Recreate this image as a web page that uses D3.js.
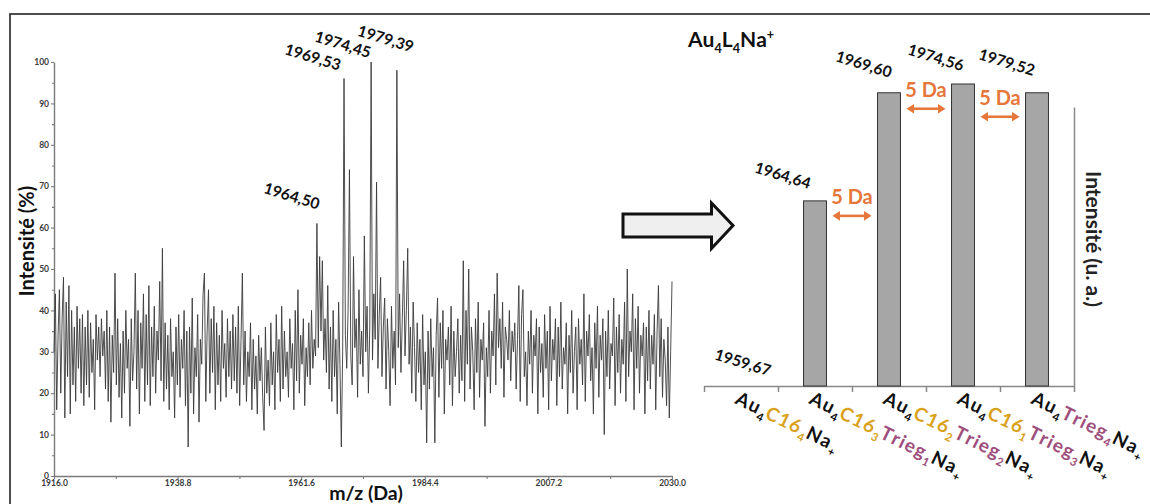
<!DOCTYPE html>
<html><head><meta charset="utf-8">
<script src="https://cdn.jsdelivr.net/npm/d3@7"></script>
<style>
html,body{margin:0;padding:0;background:#fff;}
svg{display:block;}
text{font-family:Lato,"Open Sans","DejaVu Sans",sans-serif;}
</style></head><body>
<svg id="c" width="1150" height="504"></svg>
<script>
// ---------- DATA ----------
const specStart = 1916.0, specEnd = 2030.0;
const spectrum = [
30,44,16,34,45,20,38,48,14,42,24,46,15,40,22,36,18,41,26,38,
20,39,17,36,22,40,19,37,25,33,16,39,28,36,24,38,29,35,21,40,
18,36,13,34,25,49,22,38,19,32,14,35,20,40,26,33,12,38,23,30,
49,21,40,15,37,26,44,18,39,22,46,17,36,24,41,20,35,28,47,23,
55,18,37,21,34,16,38,24,30,14,36,22,39,19,33,26,40,17,35,7,
36,20,43,15,31,24,39,13,33,27,44,49,18,35,45,20,38,25,41,16,
37,22,34,18,40,26,32,19,38,24,35,21,39,23,36,20,41,17,33,49,
22,35,18,30,24,37,16,33,21,29,15,34,23,31,19,11,36,20,28,17,
37,22,30,16,39,25,33,18,41,21,35,24,30,19,38,26,32,16,40,23,
45,20,34,27,38,17,31,24,37,22,40,26,33,29,61,31,53,35,52,28,
38,25,46,21,36,18,40,24,33,15,42,27,7,30,96,34,26,40,74,29,
22,53,31,38,19,45,27,35,24,58,30,41,20,36,100,28,44,33,71,26,
39,48,24,36,43,21,38,30,17,41,26,35,22,98,31,44,25,38,52,29,
40,55,27,36,20,42,31,18,37,25,33,16,39,22,30,8,35,21,38,24,
31,8,34,43,19,37,26,40,15,33,28,36,22,41,17,35,24,30,38,20,
34,23,52,18,40,27,50,21,36,30,16,38,25,42,19,33,28,37,12,31,
24,40,20,35,29,44,22,49,31,38,26,42,19,36,33,28,40,23,35,30,
37,21,33,46,18,39,45,24,30,17,35,27,40,20,34,29,38,15,36,25,
32,19,39,26,35,16,41,23,33,28,38,17,36,24,42,21,31,27,37,15,
34,25,40,20,30,36,16,38,27,33,22,44,18,35,29,39,23,31,15,37,
26,41,19,34,28,38,10,35,24,40,21,32,29,43,17,36,25,39,20,33,
27,42,18,50,24,35,30,44,16,38,26,41,20,34,29,37,15,36,23,40,
21,34,27,39,16,35,46,24,38,19,33,28,17,36,14,30,47
];
const mzTicks = [1916.0, 1938.8, 1961.6, 1984.4, 2007.2, 2030.0];
const mzMinorTicks = [1927.4, 1950.2, 1973.0, 1995.8, 2018.6];
const intTicks = [0,10,20,30,40,50,60,70,80,90,100];
const intMinorTicks = [5,15,25,35,45,55,65,75,85,95];
const peakMz = [1964.50, 1969.53, 1974.45, 1979.39];

const barMz = [1959.67, 1964.64, 1969.60, 1974.56, 1979.52];
const barIntensity = [0, 61.3, 97.1, 100, 97.1];
const c16Count = [4, 3, 2, 1, 0];
const triegCount = [0, 1, 2, 3, 4];
const deltaPairs = [[1,2],[2,3],[3,4]];
const deltaText = "5 Da";

// ---------- LAYOUT / STYLE ----------
const svg = d3.select("#c");
const GOLD = "#D9A11C", MAUVE = "#9E4E7C", ORANGE = "#E5773A";
const fmtComma = v => d3.format(".2f")(v).replace(".", ",");

// outer frame
svg.append("rect").attr("x",10).attr("y",14).attr("width",1170).attr("height",520)
  .attr("fill","none").attr("stroke","#222").attr("stroke-width",1.6);

// ---------- LEFT: spectrum ----------
const x = d3.scaleLinear().domain([specStart, specEnd]).range([54, 672]);
const y = d3.scaleLinear().domain([0, 100]).range([476, 62]);
const mzAt = i => specStart + i * (specEnd - specStart) / (spectrum.length - 1);

function styleAxis(g){
  g.selectAll("path.domain").attr("stroke","#7a7a7a").attr("stroke-width",1.4);
  g.selectAll(".tick line").attr("stroke","#7a7a7a").attr("stroke-width",1.1);
  g.selectAll(".tick text").attr("font-family",'"Liberation Sans",Arial,sans-serif')
    .attr("font-weight","bold").attr("font-size",8.5).attr("fill","#3a3a3a");
}

const yMinor = svg.append("g").attr("transform","translate(54,0)")
  .call(d3.axisLeft(y).tickValues(intMinorTicks).tickSize(2).tickFormat(""));
yMinor.select("path.domain").remove(); styleAxis(yMinor);
const yAx = svg.append("g").attr("transform","translate(54,0)")
  .call(d3.axisLeft(y).tickValues(intTicks).tickSize(3).tickSizeOuter(0).tickPadding(2).tickFormat(d3.format("d")));
styleAxis(yAx);

const xMinor = svg.append("g").attr("transform","translate(0,476)")
  .call(d3.axisBottom(x).tickValues(mzMinorTicks).tickSize(3).tickFormat(""));
xMinor.select("path.domain").remove(); styleAxis(xMinor);
const xAx = svg.append("g").attr("transform","translate(0,476)")
  .call(d3.axisBottom(x).tickValues(mzTicks).tickSize(3).tickSizeOuter(0).tickPadding(1).tickFormat(d3.format(".1f")));
styleAxis(xAx);

const line = d3.line().x((d,i) => x(mzAt(i))).y(d => y(d));
svg.append("path").datum(spectrum).attr("d", line)
  .attr("fill","none").attr("stroke","#3a3a3a").attr("stroke-width",0.9).attr("stroke-linejoin","miter");

// axis titles
svg.append("text").attr("transform","translate(34,241) rotate(-90)")
  .attr("text-anchor","middle").attr("font-weight","bold").attr("font-size",20).attr("fill","#111")
  .text("Intensité (%)");
svg.append("text").attr("x",366).attr("y",500)
  .attr("text-anchor","middle").attr("font-weight","bold").attr("font-size",19.5).attr("fill","#111")
  .text("m/z (Da)");

// peak labels
const peakLabelOffset = [[-25,-28],[-31,-22],[-28,-18],[-11,-32]];
peakMz.forEach((mz, j) => {
  let best = 0, bi = 0;
  spectrum.forEach((v,i) => { if (Math.abs(mzAt(i)-mz) <= 0.3 && v > best) { best = v; bi = i; } });
  const px = x(mzAt(bi)) + peakLabelOffset[j][0], py = y(best) + peakLabelOffset[j][1];
  svg.append("text").attr("transform",`translate(${px},${py}) rotate(17)`)
    .attr("text-anchor","middle").attr("dominant-baseline","central")
    .attr("font-weight","bold").attr("font-size",15.5).attr("fill","#111")
    .text(fmtComma(mz));
});

// ---------- big block arrow ----------
svg.append("path")
  .attr("d","M623,214 H711.5 V203 L733,225.5 L711.5,248.5 V237 H623 Z")
  .attr("fill","#efefef").attr("stroke","#111").attr("stroke-width",3).attr("stroke-linejoin","miter");

// ---------- RIGHT: bar chart ----------
const xb = d3.scaleBand().domain(d3.range(barIntensity.length)).range([704, 1074]).padding(0);
const edge = d3.scaleLinear().domain([0, barIntensity.length]).range([704, 1074]);
const yb = d3.scaleLinear().domain([0, 100]).range([386, 84]);
const barW = xb.bandwidth() * 0.31;

// axes
const yAxisScale = d3.scaleLinear().domain([0, 92.4]).range([386, 107]);
const rAx = svg.append("g").attr("transform","translate(1074,0)")
  .call(d3.axisRight(yAxisScale).tickValues([]).tickSizeOuter(0));
rAx.select("path.domain").attr("stroke","#888").attr("stroke-width",1.5);
const bAx = svg.append("g").attr("transform","translate(0,386)")
  .call(d3.axisBottom(edge).tickValues(d3.range(barIntensity.length + 1)).tickSize(6).tickSizeOuter(0).tickFormat(""));
bAx.select("path.domain").attr("stroke","#888").attr("stroke-width",1.5);
bAx.selectAll(".tick line").attr("stroke","#888").attr("stroke-width",1.5);

const bars = svg.append("g");
barIntensity.forEach((v, i) => {
  if (v <= 0) return;
  bars.append("rect")
    .attr("x", xb(i) + (xb.bandwidth() - barW) / 2).attr("width", barW)
    .attr("y", yb(v)).attr("height", yb(0) - yb(v))
    .attr("fill","#a6a6a6").attr("stroke","#333").attr("stroke-width",1);
});

// bar mass labels
const barLabelOffset = [[2,-24],[-32,-26],[-25,-29],[-27,-27],[-30,-31]];
barMz.forEach((mz, i) => {
  const px = xb(i) + xb.bandwidth()/2 + barLabelOffset[i][0];
  const py = yb(barIntensity[i]) + barLabelOffset[i][1];
  svg.append("text").attr("transform",`translate(${px},${py}) rotate(17)`)
    .attr("text-anchor","middle").attr("dominant-baseline","central")
    .attr("font-weight","bold").attr("font-size",15.5).attr("fill","#111")
    .text(fmtComma(mz));
});

// delta annotations
const deltaOffsetY = [15, 16, 24];
deltaPairs.forEach(([a,b], k) => {
  const cx = edge(b);
  const ay = yb(Math.min(barIntensity[a], barIntensity[b])) + deltaOffsetY[k];
  const g = svg.append("g");
  g.append("line").attr("x1",cx-13).attr("x2",cx+13).attr("y1",ay).attr("y2",ay)
    .attr("stroke",ORANGE).attr("stroke-width",2.6);
  g.append("path").attr("d",`M${cx-19.5},${ay} L${cx-12},${ay-4.8} L${cx-12},${ay+4.8} Z`).attr("fill",ORANGE);
  g.append("path").attr("d",`M${cx+19.5},${ay} L${cx+12},${ay-4.8} L${cx+12},${ay+4.8} Z`).attr("fill",ORANGE);
  g.append("text").attr("x",cx).attr("y",ay-12).attr("text-anchor","middle")
    .attr("font-weight","bold").attr("font-size",20).attr("fill",ORANGE).text(deltaText);
});

// rich text: one <text> per character inside a rotated group (manual letter spacing)
function richGroup(g, segs, size, spacing){
  let xpos = 0;
  segs.forEach(s => {
    const small = s.sub || s.sup;
    const fs = small ? size*0.6 : size;
    const yy = s.sub ? size*0.28 : s.sup ? -size*0.36 : 0;
    Array.from(s.t).forEach(ch => {
      const t = g.append("text").attr("x", xpos).attr("y", yy)
        .attr("font-weight","bold").attr("font-size", fs).attr("fill", s.c).text(ch);
      xpos += t.node().getComputedTextLength() + spacing * (small ? 0.4 : 1);
    });
  });
}

// category labels
barIntensity.forEach((v, i) => {
  const segs = [{t:"Au",c:"#111"},{t:"4",c:"#111",sub:true}];
  if (c16Count[i] > 0) segs.push({t:"C16",c:GOLD},{t:String(c16Count[i]),c:GOLD,sub:true});
  if (triegCount[i] > 0) segs.push({t:"Trieg",c:MAUVE},{t:String(triegCount[i]),c:MAUVE,sub:true});
  segs.push({t:"Na",c:"#111"},{t:"+",c:"#111",sub:true});
  const cx = xb(i) + xb.bandwidth()/2;
  const g = svg.append("g").attr("transform",`translate(${cx-7},${403}) rotate(26)`);
  richGroup(g, segs, 19, 1.2);
});

// title
const tg = svg.append("g").attr("transform","translate(688,47)");
richGroup(tg, [{t:"Au",c:"#111"},{t:"4",c:"#111",sub:true},{t:"L",c:"#111"},{t:"4",c:"#111",sub:true},{t:"Na",c:"#111"},{t:"+",c:"#111",sup:true}], 21, 0);

// right axis title
svg.append("text").attr("transform","translate(1086,239) rotate(90)")
  .attr("text-anchor","middle").attr("font-size",21).attr("font-weight","bold").attr("fill","#222")
  .text("Intensité (u. a.)");
</script>
</body></html>
